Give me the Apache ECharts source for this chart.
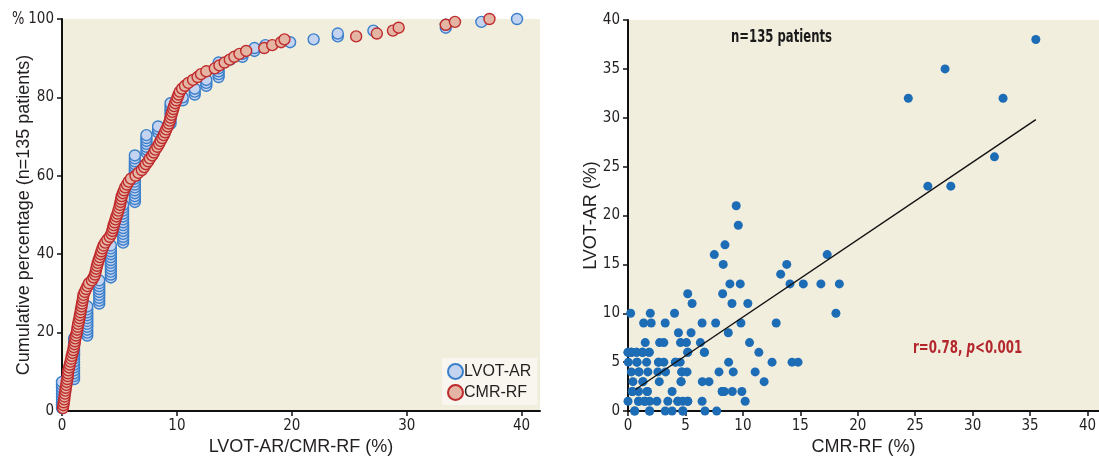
<!DOCTYPE html>
<html>
<head>
<meta charset="utf-8">
<script src="https://cdn.jsdelivr.net/npm/echarts@6/dist/echarts.min.js"></script>
<style>
  html, body { margin: 0; padding: 0; background: #ffffff; }
  #chart { width: 1099px; height: 456px; }
</style>
</head>
<body>
<div id="chart"></div>
<script>
const PATIENTS = 135;

// Cumulative panel: LVOT-AR levels and the number of patients at each level
const lvotLevels = [0, 1.05, 2.2, 3.24, 4.25, 5.32, 6.34, 7.35, 8.36, 9.45, 10.5, 11.55, 12.56,
  13.63, 14.64, 15.7, 16.75, 17.7, 19.85, 21.9, 24.0, 27.1, 33.4, 36.5, 39.6];
const lvotCounts = [10, 15, 11, 9, 12, 14, 17, 7, 3, 8, 2, 3, 3, 6, 1, 2, 2, 1, 1, 1, 2, 1, 2, 1, 1];

// Cumulative panel: CMR-RF values in ascending order
const cmrSorted = [
  0.08, 0.12, 0.15, 0.2, 0.22, 0.26, 0.3, 0.33, 0.38, 0.42,
  0.46, 0.5, 0.52, 0.55, 0.62, 0.68, 0.74, 0.8, 0.86, 0.92,
  0.98, 1.03, 1.08, 1.12, 1.16, 1.22, 1.28, 1.32, 1.37, 1.41,
  1.47, 1.52, 1.56, 1.61, 1.65, 1.7, 1.74, 1.79, 1.83, 1.88,
  1.98, 2.1, 2.22, 2.35, 2.6, 2.75, 2.87, 2.93, 2.98, 3.05,
  3.12, 3.2, 3.28, 3.36, 3.43, 3.52, 3.62, 3.76, 3.95, 4.15,
  4.3, 4.38, 4.44, 4.5, 4.58, 4.66, 4.74, 4.83, 4.9, 4.98,
  5.05, 5.1, 5.15, 5.2, 5.3, 5.4, 5.5, 5.65, 5.8, 6.0,
  6.4, 6.65, 6.95, 7.15, 7.3, 7.5, 7.65, 7.85, 8.0, 8.12,
  8.3, 8.45, 8.58, 8.72, 8.85, 8.97, 9.08, 9.2, 9.3, 9.38,
  9.45, 9.53, 9.6, 9.68, 9.75, 9.85, 9.95, 10.05, 10.15, 10.25,
  10.45, 10.7, 11.0, 11.4, 11.8, 12.1, 12.56, 13.3, 13.7, 14.15,
  14.6, 15.0, 15.45, 16.03, 17.6, 18.3, 19.07, 19.36, 25.6, 27.4,
  28.8, 29.3, 33.4, 34.2, 37.2
];

// Correlation panel: CMR-RF (x) and LVOT-AR (y) per patient
const scatterCmr = [
  0.58, 1.88, 3.24, 3.84, 4.77, 6.7, 7.72, 0.58, 1.88, 4.77,
  0, 0.92, 1.45, 1.88, 2.51, 3.47, 4.34, 4.77, 5.2, 6.45, 10.2, 0.92, 1.45, 4.34, 5.2,
  0.38, 0.92, 1.68, 3.84, 8.2, 8.38, 9.08, 9.91, 0.38, 1.68, 8.2,
  0.43, 1.3, 2.72, 4.62, 6.47, 7.05, 11.85, 1.3, 4.62,
  0.29, 0.95, 1.73, 2.6, 3.27, 4.68, 5.14, 7.92, 9.16, 11.07, 0.95, 4.68,
  0.03, 0.78, 1.62, 2.66, 3.12, 4.13, 4.54, 8.76, 12.54, 14.28, 14.8, 0.78, 2.66, 4.13,
  0, 0.29, 0.75, 1.27, 1.85, 5.2, 6.65, 11.39, 0, 0.29, 0.29, 0.75, 1.27, 1.27, 1.85, 5.2, 6.65,
  1.5, 2.75, 3.12, 4.57, 5.09, 6.3, 10.58,
  4.39, 5.49, 8.73,
  1.36, 2.02, 3.24, 6.45, 7.63, 9.83, 12.9,
  0.23, 1.94, 4.05, 18.1,
  5.58, 9.05, 10.43,
  5.2, 8.24,
  8.87, 9.77, 14.1, 15.26, 16.79, 18.4,
  13.29,
  8.29, 13.82,
  7.51, 17.34,
  8.44,
  9.6,
  9.42,
  26.1, 28.1,
  31.9,
  24.4, 32.65,
  27.6,
  35.5
];
const scatterLvot = [
  0, 0, 0, 0, 0, 0, 0, 0, 0, 0,
  1, 1, 1, 1, 1, 1, 1, 1, 1, 1, 1, 1, 1, 1, 1,
  2, 2, 2, 2, 2, 2, 2, 2, 2, 2, 2,
  3, 3, 3, 3, 3, 3, 3, 3, 3,
  4, 4, 4, 4, 4, 4, 4, 4, 4, 4, 4, 4,
  5, 5, 5, 5, 5, 5, 5, 5, 5, 5, 5, 5, 5, 5,
  6, 6, 6, 6, 6, 6, 6, 6, 6, 6, 6, 6, 6, 6, 6, 6, 6,
  7, 7, 7, 7, 7, 7, 7,
  8, 8, 8,
  9, 9, 9, 9, 9, 9, 9,
  10, 10, 10, 10,
  11, 11, 11,
  12, 12,
  13, 13, 13, 13, 13, 13,
  14,
  15, 15,
  16, 16,
  17,
  19,
  21,
  23, 23,
  26,
  32, 32,
  35,
  38
];

// Regression line end points (CMR-RF, LVOT-AR)
const fitLine = [[0.65, 2.2], [35.5, 29.8]];

// Build cumulative-percentage points
const lvotExpanded = [];
lvotLevels.forEach((v, i) => { for (let k = 0; k < lvotCounts[i]; k++) lvotExpanded.push(v); });
const lvotCum = lvotExpanded.map((v, i) => [v, (i + 1) / PATIENTS * 100]);
const cmrCum = cmrSorted.map((v, i) => [v, (i + 1) / PATIENTS * 100]);
const scatterData = scatterCmr.map((x, i) => [x, scatterLvot[i]]);

const narrow = "'DejaVu Sans Condensed', 'Liberation Sans Narrow', sans-serif";
const regular = "'Liberation Sans', Arial, sans-serif";
const ink = '#231f20';
const panelBg = '#f2eede';

function axisBase() {
  return {
    axisLine: { show: true, onZero: false, lineStyle: { color: '#111', width: 2 } },
    axisTick: { show: true, inside: false, length: 5, lineStyle: { color: '#111', width: 1.5 } },
    axisLabel: { color: ink, fontFamily: narrow, fontSize: 15, margin: 8 },
    splitLine: { show: false },
    nameMoveOverlap: false,
    nameTextStyle: { color: ink, fontFamily: regular, fontSize: 18 }
  };
}

const chart = echarts.init(document.getElementById('chart'), null, { renderer: 'canvas' });

chart.setOption({
  animation: false,
  backgroundColor: '#ffffff',
  grid: [
    { left: 62, top: 19, width: 478, height: 392, show: true, backgroundColor: panelBg, borderWidth: 0,
      outerBoundsMode: 'none', containLabel: false },
    { left: 628, top: 20, width: 471, height: 391, show: true, backgroundColor: panelBg, borderWidth: 0,
      outerBoundsMode: 'none', containLabel: false }
  ],
  xAxis: [
    Object.assign(axisBase(), {
      gridIndex: 0, type: 'value', min: 0, max: 41.6, interval: 10,
      name: 'LVOT-AR/CMR-RF (%)', nameLocation: 'middle', nameGap: 27
    }),
    Object.assign(axisBase(), {
      gridIndex: 1, type: 'value', min: 0, max: 41, interval: 5,
      name: 'CMR-RF (%)', nameLocation: 'middle', nameGap: 27
    })
  ],
  yAxis: [
    Object.assign(axisBase(), {
      gridIndex: 0, type: 'value', min: 0, max: 100, interval: 20,
      name: 'Cumulative percentage (n=135 patients)', nameLocation: 'middle', nameGap: 29
    }),
    Object.assign(axisBase(), {
      gridIndex: 1, type: 'value', min: 0, max: 40, interval: 5,
      name: 'LVOT-AR (%)', nameLocation: 'middle', nameGap: 28
    })
  ],
  legend: {
    data: ['LVOT-AR', 'CMR-RF'],
    orient: 'vertical',
    left: 442, top: 358,
    backgroundColor: '#f8f6ee',
    padding: [5, 6, 4, 5],
    itemGap: 4,
    itemWidth: 15, itemHeight: 15,
    icon: 'circle',
    textStyle: { color: ink, fontFamily: regular, fontSize: 16, padding: [0, 0, 0, -4] }
  },
  series: [
    {
      name: 'LVOT-AR', type: 'scatter', xAxisIndex: 0, yAxisIndex: 0,
      data: lvotCum, symbol: 'circle', symbolSize: 11,
      itemStyle: { color: '#c4d3ef', borderColor: '#3a7fcb', borderWidth: 1.4, opacity: 1 },
      clip: false
    },
    {
      name: 'CMR-RF', type: 'scatter', xAxisIndex: 0, yAxisIndex: 0,
      data: cmrCum, symbol: 'circle', symbolSize: 11,
      itemStyle: { color: '#e5b5a3', borderColor: '#bf2a2c', borderWidth: 1.4, opacity: 1 },
      clip: false
    },
    {
      name: 'Patients', type: 'scatter', xAxisIndex: 1, yAxisIndex: 1,
      data: scatterData, symbol: 'circle', symbolSize: 9,
      itemStyle: { color: '#1d6cb6', opacity: 1 },
      clip: false
    },
    {
      name: 'Fit', type: 'line', xAxisIndex: 1, yAxisIndex: 1,
      data: fitLine, symbol: 'none',
      lineStyle: { color: '#111', width: 1.4 }
    }
  ],
  graphic: [
    {
      type: 'text', x: 12, y: 20, scaleX: 0.85,
      style: { text: '%', fill: ink, verticalAlign: 'middle', font: "17px 'DejaVu Sans Condensed', sans-serif" }
    },
    {
      type: 'text', x: 731, y: 37, scaleX: 0.72,
      style: { text: 'n=135 patients', fill: '#1a1a1a', verticalAlign: 'middle', font: "bold 18px 'DejaVu Sans Condensed', sans-serif" }
    },
    {
      type: 'text', x: 913, y: 348, scaleX: 0.73,
      style: {
        text: '{a|r=0.78, }{b|p}{a|<0.001}',
        verticalAlign: 'middle',
        rich: {
          a: { fill: '#b3272c', fontWeight: 'bold', fontSize: 18, fontFamily: narrow },
          b: { fill: '#b3272c', fontWeight: 'bold', fontStyle: 'italic', fontSize: 18, fontFamily: narrow }
        }
      }
    }
  ]
});
</script>
</body>
</html>
